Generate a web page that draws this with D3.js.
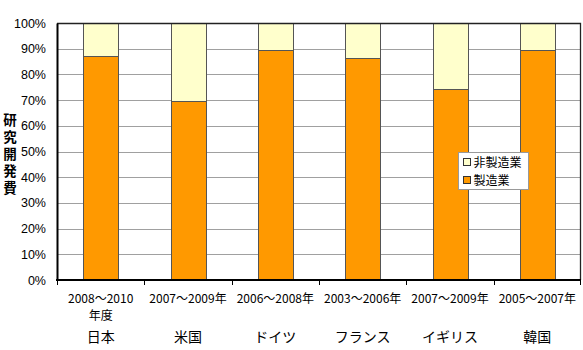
<!DOCTYPE html>
<html>
<head>
<meta charset="utf-8">
<script src="https://cdn.jsdelivr.net/npm/d3@7"></script>
<style>
  html, body { margin: 0; padding: 0; background: #fff; }
  svg { display: block; }
  text { font-family: "Liberation Sans", Arial, "Noto Sans CJK JP", sans-serif; fill: #000; }
  .jp { font-family: "Noto Sans CJK JP", "Liberation Sans", sans-serif; }
</style>
</head>
<body>
<svg id="chart" width="583" height="350"></svg>
<script>
// Share of R&D spending by sector (%)
const countries = ["日本", "米国", "ドイツ", "フランス", "イギリス", "韓国"];
const periods = [["2008～2010", "年度"], ["2007～2009年"], ["2006～2008年"], ["2003～2006年"], ["2007～2009年"], ["2005～2007年"]];
const manufacturing = [87.2, 69.5, 89.4, 86.4, 74.3, 89.4];
const nonManufacturing = manufacturing.map(v => 100 - v);
const seriesNames = ["非製造業", "製造業"];
const seriesColors = ["#FFFFCC", "#FF9900"];
const yTicks = [0, 10, 20, 30, 40, 50, 60, 70, 80, 90, 100];
const yTitle = "研究開発費";

const svg = d3.select("#chart");
const margin = { left: 57, right: 2, top: 23, bottom: 70 };
const W = 583, H = 350;
const plotW = W - margin.left - margin.right;
const plotH = H - margin.top - margin.bottom;

const x = d3.scaleBand().domain(countries).range([margin.left, margin.left + plotW]).paddingInner(0.6).paddingOuter(0.3);
const xOuter = d3.scaleBand().domain(countries).range([margin.left, margin.left + plotW]);
const y = d3.scaleLinear().domain([0, 100]).range([margin.top + plotH, margin.top]);

// plot background
svg.append("rect")
  .attr("x", margin.left).attr("y", margin.top)
  .attr("width", plotW).attr("height", plotH)
  .attr("fill", "#fff");

// horizontal gridlines
svg.append("g").selectAll("line").data(yTicks.filter(t => t > 0 && t < 100)).join("line")
  .attr("x1", margin.left).attr("x2", margin.left + plotW)
  .attr("y1", d => Math.round(y(d)) + 0.5).attr("y2", d => Math.round(y(d)) + 0.5)
  .attr("stroke", "#a0a0a0").attr("stroke-width", 1);

// stacked bars
const rows = countries.map((c, i) => ({ c, man: manufacturing[i], non: nonManufacturing[i] }));
const stack = d3.stack().keys(["man", "non"]);
const layers = stack(rows);
const layerColors = { man: seriesColors[1], non: seriesColors[0] };
svg.append("g").selectAll("g").data(layers).join("g")
  .attr("fill", d => layerColors[d.key])
  .selectAll("rect").data(d => d).join("rect")
  .attr("x", d => Math.round(x(d.data.c)) + 0.5)
  .attr("width", Math.round(x.bandwidth()))
  .attr("y", d => Math.round(y(d[1])) + 0.5)
  .attr("height", d => Math.round(y(d[0])) - Math.round(y(d[1])))
  .attr("stroke", "#555").attr("stroke-width", 1);

// plot border (top and right)
svg.append("path")
  .attr("d", `M${margin.left},${margin.top + 0.5}H${margin.left + plotW - 0.5}V${margin.top + plotH}`)
  .attr("fill", "none").attr("stroke", "#222").attr("stroke-width", 1.3);

// y axis
const yAxis = svg.append("g")
  .attr("transform", `translate(${margin.left},0)`)
  .call(d3.axisLeft(y).tickValues(yTicks).tickFormat(d => d + "%").tickSize(0).tickPadding(11));
yAxis.select(".domain").attr("stroke", "#000").attr("stroke-width", 2);
yAxis.selectAll("text").attr("font-size", 12.5).attr("fill", "#000");

// x axis
svg.append("line")
  .attr("x1", margin.left - 1).attr("x2", margin.left + plotW)
  .attr("y1", margin.top + plotH).attr("y2", margin.top + plotH)
  .attr("stroke", "#000").attr("stroke-width", 2);
svg.append("g").selectAll("line").data(countries).join("line")
  .attr("x1", d => Math.round(xOuter(d)) + 0.5).attr("x2", d => Math.round(xOuter(d)) + 0.5)
  .attr("y1", margin.top + plotH).attr("y2", margin.top + plotH + 5)
  .attr("stroke", "#000");
svg.append("line")
  .attr("x1", margin.left + plotW - 0.5).attr("x2", margin.left + plotW - 0.5)
  .attr("y1", margin.top + plotH).attr("y2", margin.top + plotH + 5)
  .attr("stroke", "#000");

// category labels
const xl = svg.append("g");
countries.forEach((c, i) => {
  const cx = xOuter(c) + xOuter.bandwidth() / 2;
  periods[i].forEach((line, j) => {
    xl.append("text").attr("class", "jp")
      .attr("x", cx).attr("y", 303 + j * 17)
      .attr("text-anchor", "middle").attr("font-size", 12)
      .text(line);
  });
  xl.append("text").attr("class", "jp")
    .attr("x", cx).attr("y", 342)
    .attr("text-anchor", "middle").attr("font-size", 14)
    .text(c);
});

// y title, written vertically
svg.append("text").attr("class", "jp")
  .attr("x", 10).attr("y", 156)
  .attr("font-size", 13.5).attr("font-weight", "bold")
  .attr("text-anchor", "middle")
  .style("writing-mode", "vertical-rl")
  .style("text-orientation", "upright")
  .style("letter-spacing", "3.5px")
  .text(yTitle);

// legend
const lg = svg.append("g").attr("transform", "translate(458.5,152.5)");
lg.append("rect").attr("width", 70).attr("height", 37)
  .attr("fill", "#fff").attr("stroke", "#999");
seriesNames.forEach((name, i) => {
  const row = lg.append("g").attr("transform", `translate(5,${10 + i * 18})`);
  row.append("rect").attr("x", 0).attr("y", -4).attr("width", 7).attr("height", 7)
    .attr("fill", seriesColors[i]).attr("stroke", "#333");
  row.append("text").attr("class", "jp").attr("x", 10).attr("y", 0)
    .attr("dy", "0.36em").attr("font-size", 12).text(name);
});
</script>
</body>
</html>
